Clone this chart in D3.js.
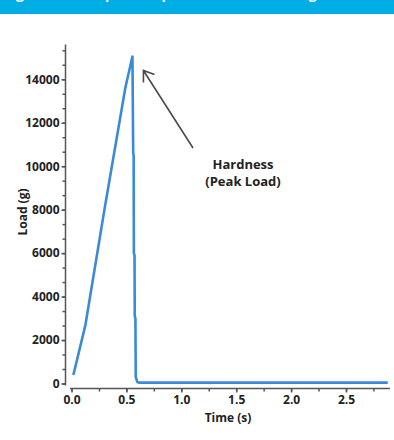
<!DOCTYPE html>
<html>
<head>
<meta charset="utf-8">
<script src="https://cdn.jsdelivr.net/npm/d3@7"></script>
<style>
  body { margin: 0; background: #fff; }
  text { font-family: "Open Sans", "Liberation Sans", sans-serif; font-weight: bold; }
</style>
</head>
<body>
<div id="chart"></div>
<script>
// load curve: time (s) and load (g)
const times = [0.017, 0.127, 0.30, 0.49, 0.555, 0.562, 0.566, 0.568, 0.574, 0.576, 0.582, 0.585, 0.60, 0.62, 2.88];
const loads = [390, 2700, 8000, 13600, 15050, 10600, 10500, 6000, 5900, 3100, 3000, 300, 60, 40, 40];

const xTicks = [0.0, 0.5, 1.0, 1.5, 2.0, 2.5];
const yTicks = [0, 2000, 4000, 6000, 8000, 10000, 12000, 14000];

const width = 394,
      height = 440;

const svg = d3.select("#chart")
    .append("svg")
    .attr("width", width)
    .attr("height", height);

// blue header strip (title text mostly cut off at the top)
svg.append("rect")
    .attr("x", 0).attr("y", 0)
    .attr("width", width).attr("height", 14)
    .attr("fill", "#00ade4");

svg.append("text")
    .attr("x", 4).attr("y", -1)
    .attr("fill", "#fff")
    .style("font-size", "14px")
    .text("Figure 2: Example Compression Test Showing Hardness");

// scales
let x = d3.scaleLinear()
    .domain([0, 2.9])
    .range([71.5, 71.5 + 2.9 * 109.8]);

let y = d3.scaleLinear()
    .domain([0, 15600])
    .range([383.5, 44.5]);

// y axis: minor ticks every 2000/3, labels every 2000
let yMinor = d3.range(0, 15600, 2000 / 3);
svg.append("g")
    .attr("transform", "translate(65.5,0)")
    .call(d3.axisLeft(y).tickValues(yMinor).tickSize(3).tickFormat(""))
    .call(g => g.select(".domain").attr("d", `M0,${y(15600)}V${y(0) + 2}`));

svg.append("g")
    .attr("class", "yaxis")
    .attr("transform", "translate(65.5,0)")
    .call(d3.axisLeft(y).tickValues(yTicks).tickSize(4).tickPadding(2).tickFormat(d3.format("d")))
    .call(g => g.select(".domain").remove());

// x axis: minor ticks every 0.25
let xMinor = d3.range(0, 2.9, 0.25);
svg.append("g")
    .attr("transform", "translate(0,388.5)")
    .call(d3.axisBottom(x).tickValues(xMinor).tickSize(3).tickFormat(""))
    .call(g => g.select(".domain").attr("d", `M70,0H${x(2.9)}`));

svg.append("g")
    .attr("class", "xaxis")
    .attr("transform", "translate(0,388.5)")
    .call(d3.axisBottom(x).tickValues(xTicks).tickSize(4).tickPadding(3).tickFormat(d3.format(".1f")))
    .call(g => g.select(".domain").remove());

svg.selectAll(".tick line, .domain")
    .attr("stroke", "#555")
    .attr("stroke-width", 1.5);

svg.selectAll(".yaxis text, .xaxis text")
    .attr("fill", "#222")
    .style("font-size", "12px");

// axis titles
svg.append("text")
    .attr("x", 228).attr("y", 422)
    .attr("text-anchor", "middle")
    .attr("fill", "#222")
    .style("font-size", "12px")
    .text("Time (s)");

svg.append("text")
    .attr("transform", "translate(27,212) rotate(-90)")
    .attr("text-anchor", "middle")
    .attr("fill", "#222")
    .style("font-size", "12px")
    .text("Load (g)");

// the curve
let line = d3.line()
    .x(i => x(times[i]))
    .y(i => y(loads[i]));

svg.append("path")
    .attr("d", line(d3.range(times.length)))
    .attr("fill", "none")
    .attr("stroke", "#3a8ad8")
    .attr("stroke-width", 2.6)
    .attr("stroke-linejoin", "round");

// annotation arrow pointing at the peak
let tip = [x(0.555) + 11, y(15050) + 14],
    tail = [193, 148];
svg.append("path")
    .attr("d", `M${tail[0]},${tail[1]}L${tip[0]},${tip[1]}M${tip[0]},${tip[1] + 12}L${tip[0]},${tip[1]}L${tip[0] + 11},${tip[1] + 4}`)
    .attr("fill", "none")
    .attr("stroke", "#4a4a4a")
    .attr("stroke-width", 1.6);

svg.append("text")
    .attr("x", 243).attr("y", 169)
    .attr("text-anchor", "middle")
    .attr("fill", "#222")
    .style("font-size", "13px")
    .text("Hardness");

svg.append("text")
    .attr("x", 243).attr("y", 186)
    .attr("text-anchor", "middle")
    .attr("fill", "#222")
    .style("font-size", "13px")
    .text("(Peak Load)");
</script>
</body>
</html>
